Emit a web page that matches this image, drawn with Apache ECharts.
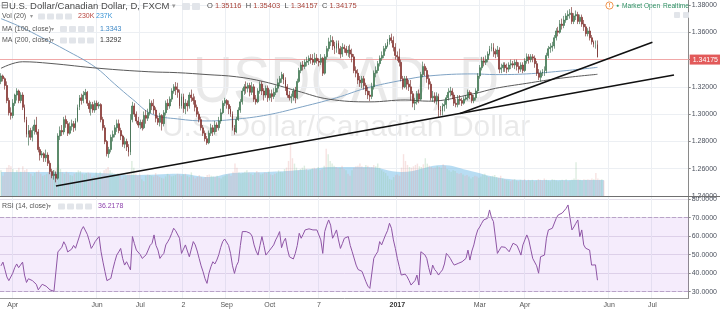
<!DOCTYPE html>
<html><head><meta charset="utf-8">
<script src="https://cdn.jsdelivr.net/npm/echarts@6.0.0/dist/echarts.min.js"></script>
<style>html,body{margin:0;padding:0;background:#fff}#c{width:720px;height:309px}</style>
</head><body><div id="c"></div>
<script>
// [open, close, low, high] per trading day, starting 2016-03-24
const ohlc = [
[1.3240,1.3280,1.3220,1.3300],[1.3280,1.3260,1.3240,1.3290],[1.3260,1.3210,1.3180,1.3270],[1.3210,1.3100,1.3080,1.3240],[1.3100,1.3010,1.2990,1.3120],
[1.3010,1.2990,1.2960,1.3050],[1.2990,1.3080,1.2970,1.3110],[1.3080,1.3140,1.3060,1.3150],[1.3140,1.3170,1.3100,1.3190],[1.3170,1.3100,1.3080,1.3180],
[1.3100,1.3140,1.3080,1.3160],[1.3140,1.3050,1.3030,1.3160],[1.3050,1.2960,1.2940,1.3070],[1.2960,1.2850,1.2830,1.2980],[1.2850,1.2880,1.2770,1.2920],
[1.2880,1.2830,1.2810,1.2900],[1.2830,1.2880,1.2800,1.2910],[1.2880,1.2920,1.2850,1.2960],[1.2920,1.2870,1.2850,1.2980],[1.2870,1.2740,1.2720,1.2890],
[1.2740,1.2700,1.2660,1.2760],[1.2700,1.2710,1.2680,1.2730],[1.2710,1.2680,1.2650,1.2720],[1.2680,1.2700,1.2650,1.2740],[1.2700,1.2640,1.2620,1.2720],
[1.2640,1.2580,1.2560,1.2660],[1.2580,1.2550,1.2530,1.2600],[1.2550,1.2560,1.2520,1.2590],[1.2560,1.2530,1.2500,1.2580],[1.2530,1.2840,1.2520,1.2860],
[1.2840,1.2880,1.2810,1.2910],[1.2880,1.2870,1.2840,1.2920],[1.2870,1.2960,1.2850,1.2980],[1.2960,1.2930,1.2900,1.2990],[1.2930,1.2860,1.2840,1.2950],
[1.2860,1.2910,1.2850,1.2940],[1.2910,1.2930,1.2880,1.2960],[1.2930,1.2900,1.2870,1.2950],[1.2900,1.2950,1.2880,1.2970],[1.2950,1.3050,1.2940,1.3070],
[1.3050,1.3120,1.3030,1.3140],[1.3120,1.3100,1.3070,1.3150],[1.3100,1.3140,1.3080,1.3170],[1.3140,1.3160,1.3110,1.3185],[1.3160,1.3080,1.3060,1.3170],
[1.3080,1.3040,1.3010,1.3100],[1.3040,1.3070,1.2990,1.3090],[1.3070,1.3030,1.3010,1.3090],[1.3030,1.3080,1.3010,1.3100],[1.3080,1.3060,1.3030,1.3100],
[1.3060,1.3070,1.3040,1.3090],[1.3070,1.2960,1.2940,1.3080],[1.2960,1.2900,1.2880,1.2980],[1.2900,1.2800,1.2780,1.2920],[1.2800,1.2710,1.2690,1.2810],
[1.2710,1.2740,1.2680,1.2760],[1.2740,1.2830,1.2720,1.2850],[1.2830,1.2850,1.2800,1.2880],[1.2850,1.2900,1.2830,1.2920],[1.2900,1.2930,1.2870,1.2960],
[1.2930,1.2880,1.2860,1.2960],[1.2880,1.2840,1.2810,1.2900],[1.2840,1.2780,1.2760,1.2850],[1.2780,1.2800,1.2750,1.2830],[1.2800,1.2760,1.2730,1.2820],
[1.2760,1.2720,1.2690,1.2780],[1.2720,1.2960,1.2700,1.3000],[1.2960,1.3060,1.2940,1.3090],[1.3060,1.3000,1.2980,1.3080],[1.3000,1.2950,1.2930,1.3020],
[1.2950,1.2920,1.2900,1.2980],[1.2920,1.2940,1.2890,1.2960],[1.2940,1.2900,1.2880,1.2960],[1.2900,1.2990,1.2890,1.3020],[1.2990,1.2970,1.2930,1.3030],
[1.2970,1.3010,1.2950,1.3040],[1.3010,1.3080,1.2990,1.3110],[1.3080,1.3060,1.3030,1.3100],[1.3060,1.3030,1.3000,1.3110],[1.3030,1.2970,1.2940,1.3050],
[1.2970,1.2940,1.2920,1.2990],[1.2940,1.2990,1.2910,1.3010],[1.2990,1.2930,1.2880,1.3000],[1.2930,1.3010,1.2910,1.3030],[1.3010,1.3080,1.2990,1.3100],
[1.3080,1.3060,1.3030,1.3110],[1.3060,1.3110,1.3040,1.3130],[1.3110,1.3170,1.3090,1.3190],[1.3170,1.3200,1.3150,1.3220],[1.3200,1.3180,1.3140,1.3235],
[1.3180,1.3160,1.3120,1.3230],[1.3160,1.3060,1.3040,1.3180],[1.3060,1.3130,1.3040,1.3150],[1.3130,1.3040,1.3010,1.3150],[1.3040,1.3080,1.3000,1.3110],
[1.3080,1.3060,1.3020,1.3100],[1.3060,1.3140,1.3040,1.3160],[1.3140,1.3120,1.3090,1.3180],[1.3120,1.3100,1.3070,1.3150],[1.3100,1.3050,1.3020,1.3130],
[1.3050,1.3000,1.2980,1.3070],[1.3000,1.2960,1.2940,1.3020],[1.2960,1.2900,1.2880,1.2980],[1.2900,1.2860,1.2840,1.2920],[1.2860,1.2820,1.2800,1.2880],
[1.2820,1.2790,1.2775,1.2840],[1.2790,1.2860,1.2780,1.2880],[1.2860,1.2900,1.2840,1.2930],[1.2900,1.2870,1.2840,1.2920],[1.2870,1.2920,1.2850,1.2950],
[1.2920,1.2900,1.2870,1.2940],[1.2900,1.2950,1.2880,1.2980],[1.2950,1.3010,1.2930,1.3040],[1.3010,1.3080,1.3000,1.3100],[1.3080,1.3100,1.3060,1.3120],
[1.3100,1.3070,1.3040,1.3110],[1.3070,1.3040,1.3000,1.3100],[1.3040,1.3000,1.2980,1.3060],[1.3000,1.2900,1.2880,1.3020],[1.2900,1.2870,1.2850,1.2920],
[1.2870,1.2960,1.2860,1.2980],[1.2960,1.3030,1.2950,1.3050],[1.3030,1.3090,1.3010,1.3110],[1.3090,1.3170,1.3070,1.3190],[1.3170,1.3200,1.3140,1.3220],
[1.3200,1.3190,1.3150,1.3240],[1.3190,1.3210,1.3160,1.3230],[1.3210,1.3160,1.3130,1.3230],[1.3160,1.3200,1.3140,1.3235],[1.3200,1.3110,1.3090,1.3220],
[1.3110,1.3090,1.3070,1.3140],[1.3090,1.3170,1.3080,1.3190],[1.3170,1.3220,1.3150,1.3240],[1.3220,1.3170,1.3140,1.3240],[1.3170,1.3140,1.3100,1.3190],
[1.3140,1.3190,1.3120,1.3210],[1.3190,1.3120,1.3090,1.3210],[1.3120,1.3150,1.3100,1.3180],[1.3150,1.3130,1.3090,1.3180],[1.3130,1.3160,1.3110,1.3190],
[1.3160,1.3190,1.3140,1.3210],[1.3190,1.3230,1.3160,1.3260],[1.3230,1.3260,1.3210,1.3280],[1.3260,1.3290,1.3230,1.3310],[1.3290,1.3250,1.3220,1.3300],
[1.3250,1.3200,1.3170,1.3270],[1.3200,1.3140,1.3120,1.3220],[1.3140,1.3120,1.3100,1.3170],[1.3120,1.3130,1.3080,1.3150],[1.3130,1.3170,1.3100,1.3190],
[1.3170,1.3120,1.3080,1.3200],[1.3120,1.3240,1.3110,1.3260],[1.3240,1.3320,1.3230,1.3340],[1.3320,1.3360,1.3300,1.3380],[1.3360,1.3350,1.3320,1.3390],
[1.3350,1.3380,1.3330,1.3400],[1.3380,1.3390,1.3350,1.3420],[1.3390,1.3410,1.3360,1.3430],[1.3410,1.3400,1.3370,1.3440],[1.3400,1.3380,1.3360,1.3440],
[1.3380,1.3410,1.3360,1.3450],[1.3410,1.3390,1.3370,1.3440],[1.3390,1.3380,1.3350,1.3410],[1.3380,1.3410,1.3360,1.3440],[1.3410,1.3300,1.3280,1.3420],
[1.3300,1.3420,1.3290,1.3440],[1.3420,1.3480,1.3400,1.3500],[1.3480,1.3530,1.3460,1.3560],[1.3530,1.3540,1.3500,1.3580],[1.3540,1.3500,1.3470,1.3570],
[1.3500,1.3480,1.3440,1.3530],[1.3480,1.3520,1.3450,1.3540],[1.3520,1.3480,1.3440,1.3540],[1.3480,1.3440,1.3410,1.3500],[1.3440,1.3490,1.3420,1.3520],
[1.3490,1.3480,1.3450,1.3510],[1.3480,1.3450,1.3430,1.3500],[1.3450,1.3470,1.3420,1.3500],[1.3470,1.3440,1.3410,1.3510],[1.3440,1.3420,1.3380,1.3480],
[1.3420,1.3320,1.3300,1.3440],[1.3320,1.3300,1.3270,1.3350],[1.3300,1.3250,1.3220,1.3330],[1.3250,1.3230,1.3200,1.3280],[1.3230,1.3260,1.3190,1.3280],
[1.3260,1.3210,1.3180,1.3280],[1.3210,1.3170,1.3140,1.3230],[1.3170,1.3140,1.3110,1.3200],[1.3140,1.3130,1.3095,1.3170],[1.3130,1.3200,1.3110,1.3230],
[1.3200,1.3300,1.3180,1.3320],[1.3300,1.3320,1.3270,1.3350],[1.3320,1.3370,1.3300,1.3390],[1.3370,1.3410,1.3350,1.3430],[1.3410,1.3430,1.3390,1.3460],
[1.3430,1.3480,1.3410,1.3500],[1.3480,1.3500,1.3460,1.3520],[1.3500,1.3530,1.3490,1.3550],[1.3530,1.3560,1.3510,1.3580],[1.3560,1.3540,1.3520,1.3590],
[1.3540,1.3490,1.3460,1.3570],[1.3490,1.3430,1.3400,1.3520],[1.3430,1.3420,1.3390,1.3460],[1.3420,1.3380,1.3350,1.3480],[1.3380,1.3260,1.3240,1.3400],
[1.3260,1.3200,1.3180,1.3280],[1.3200,1.3260,1.3190,1.3280],[1.3260,1.3220,1.3180,1.3280],[1.3220,1.3200,1.3170,1.3250],[1.3200,1.3150,1.3100,1.3250],
[1.3150,1.3080,1.3050,1.3170],[1.3080,1.3090,1.3030,1.3120],[1.3090,1.3150,1.3070,1.3170],[1.3150,1.3110,1.3080,1.3180],[1.3110,1.3290,1.3100,1.3310],
[1.3290,1.3350,1.3270,1.3385],[1.3350,1.3320,1.3280,1.3370],[1.3320,1.3260,1.3230,1.3340],[1.3260,1.3220,1.3180,1.3290],[1.3220,1.3120,1.3100,1.3240],
[1.3120,1.3130,1.3090,1.3170],[1.3130,1.3100,1.3080,1.3160],[1.3100,1.3130,1.3070,1.3160],[1.3130,1.3030,1.2980,1.3150],[1.3030,1.3020,1.2990,1.3060],
[1.3020,1.3060,1.2990,1.3080],[1.3060,1.3070,1.3020,1.3100],[1.3070,1.3120,1.3040,1.3140],[1.3120,1.3160,1.3100,1.3190],[1.3160,1.3170,1.3130,1.3200],
[1.3170,1.3140,1.3110,1.3190],[1.3140,1.3080,1.3060,1.3160],[1.3080,1.3070,1.3050,1.3110],[1.3070,1.3110,1.3050,1.3140],[1.3110,1.3100,1.3070,1.3140],
[1.3100,1.3080,1.3060,1.3120],[1.3080,1.3110,1.3070,1.3130],[1.3110,1.3120,1.3100,1.3140],[1.3120,1.3160,1.3100,1.3180],[1.3160,1.3140,1.3110,1.3175],
[1.3140,1.3100,1.3080,1.3160],[1.3100,1.3120,1.3080,1.3140],[1.3120,1.3170,1.3100,1.3190],[1.3170,1.3280,1.3150,1.3300],[1.3280,1.3340,1.3260,1.3360],
[1.3340,1.3390,1.3320,1.3420],[1.3390,1.3380,1.3350,1.3420],[1.3380,1.3400,1.3360,1.3430],[1.3400,1.3440,1.3380,1.3460],[1.3440,1.3480,1.3430,1.3500],
[1.3480,1.3490,1.3460,1.3520],[1.3490,1.3460,1.3420,1.3520],[1.3460,1.3440,1.3410,1.3480],[1.3440,1.3470,1.3420,1.3500],[1.3470,1.3330,1.3300,1.3490],
[1.3330,1.3340,1.3300,1.3370],[1.3340,1.3360,1.3310,1.3380],[1.3360,1.3340,1.3310,1.3380],[1.3340,1.3330,1.3300,1.3370],[1.3330,1.3360,1.3310,1.3380],
[1.3360,1.3370,1.3330,1.3400],[1.3370,1.3360,1.3340,1.3390],[1.3360,1.3380,1.3330,1.3400],[1.3380,1.3350,1.3320,1.3400],[1.3350,1.3330,1.3300,1.3380],
[1.3330,1.3360,1.3310,1.3380],[1.3360,1.3320,1.3300,1.3380],[1.3320,1.3390,1.3310,1.3410],[1.3390,1.3420,1.3370,1.3445],[1.3420,1.3400,1.3370,1.3440],
[1.3400,1.3420,1.3380,1.3440],[1.3420,1.3410,1.3380,1.3440],[1.3410,1.3370,1.3340,1.3430],[1.3370,1.3300,1.3280,1.3390],[1.3300,1.3270,1.3250,1.3330],
[1.3270,1.3300,1.3238,1.3320],[1.3300,1.3310,1.3280,1.3330],[1.3310,1.3320,1.3280,1.3350],[1.3320,1.3430,1.3300,1.3450],[1.3430,1.3480,1.3410,1.3500],
[1.3480,1.3490,1.3450,1.3520],[1.3490,1.3500,1.3460,1.3530],[1.3500,1.3560,1.3480,1.3580],[1.3560,1.3610,1.3540,1.3630],[1.3610,1.3600,1.3570,1.3640],
[1.3600,1.3660,1.3590,1.3690],[1.3660,1.3650,1.3620,1.3700],[1.3650,1.3690,1.3630,1.3720],[1.3690,1.3720,1.3670,1.3740],[1.3720,1.3730,1.3690,1.3760],
[1.3730,1.3740,1.3700,1.3770],[1.3740,1.3680,1.3660,1.3785],[1.3680,1.3720,1.3660,1.3740],[1.3720,1.3730,1.3690,1.3760],[1.3730,1.3680,1.3660,1.3750],
[1.3680,1.3710,1.3660,1.3730],[1.3710,1.3660,1.3640,1.3730],[1.3660,1.3640,1.3610,1.3690],[1.3640,1.3590,1.3570,1.3660],[1.3590,1.3610,1.3570,1.3630],
[1.3610,1.3560,1.3540,1.3640],[1.3560,1.3530,1.3510,1.3580],[1.3530,1.3510,1.3490,1.3540],[1.3510,1.35116,1.3480,1.3540],[1.35116,1.34175,1.34157,1.35403]
];
// volume per bar, thousands
const volume = [
380,300,350,420,460,440,400,350,380,420,360,440,
380,400,350,330,300,340,360,380,330,300,310,330,360,370,380,
390,420,470,400,350,330,360,340,310,300,330,350,380,370,330,
320,340,350,330,280,300,350,320,360,330,380,400,430,380,350,
330,320,340,300,250,290,300,340,330,520,420,330,300,320,250,
220,300,320,310,300,290,340,300,280,270,260,290,330,310,290,
300,310,330,320,300,320,330,300,280,350,290,260,280,310,280,
260,280,310,320,300,290,280,300,270,260,290,300,320,330,300,
360,480,420,350,330,340,360,380,350,330,310,340,370,350,320,
330,350,340,360,320,310,330,340,380,360,350,400,420,520,780,
560,480,420,380,400,420,450,400,380,390,410,420,400,430,380,
400,450,700,620,520,480,450,430,410,420,450,400,380,330,300,
380,420,440,450,480,440,420,460,450,420,430,460,440,480,420,
380,360,340,300,250,240,280,310,320,300,420,620,520,460,430,
420,440,460,480,440,430,470,560,480,450,430,410,420,440,430,
420,470,450,400,380,360,380,370,340,330,340,320,300,310,290,
260,280,300,290,270,290,320,330,300,280,290,300,310,280,270,
300,260,250,240,230,220,240,250,230,220,240,230,250,220,240,
230,240,220,230,250,240,230,260,240,230,220,250,240,230,220,
230,240,230,250,220,230,240,260,500,250,240,230,250,240,250,
240,260,250,340,260,240,250,230
];
// volume moving average read at sample bars [barIndex, thousands]
const volumeMA = [[0,355],[30,355],[50,340],[67,311],[90,330],[105,281],[117,340],[134,355],[151,385],[168,430],[185,430],[202,355],[223,459],[235,385],[252,266],[268,237],[285,237],[304,237]];
// MA(100) and MA(200) read at sample bars [barIndex, price]
const ma100 = [[0,1.3700],[10,1.3640],[21,1.3560],[33,1.3470],[48,1.3345],[58,1.3220],[67,1.3110],[77,1.3000],[90,1.2965],[105,1.2950],[121,1.2965],[136,1.2995],[151,1.3045],[171,1.3120],[186,1.3190],[205,1.3250],[218,1.3280],[241,1.3295],[252,1.3290],[268,1.3295],[285,1.3315],[304,1.3343]];
const ma200 = [[0,1.3336],[11,1.3384],[25,1.3372],[50,1.3336],[75,1.3311],[90,1.3304],[105,1.3290],[120,1.3274],[134,1.3238],[151,1.3170],[167,1.3110],[188,1.3090],[206,1.3104],[218,1.3095],[241,1.3150],[252,1.3189],[268,1.3226],[285,1.3263],[304,1.3292]];
const rsi = [
44,46,42,38,36,37,40,43,45,43, 44,46,39,35,37,38,36,37,34,31,
32,34,33,33,32,31,30.5,30.2,29.7,51.5, 52.5,54,57,55,51.5,50.7,53,55,53.5,53.4,
60,63.4,65.2,64.3,61,57.5,53.4,55,57.1,58.5, 59.8,51.6,46,40.8,36,35.1,37.2,42,46.2,49.8,
51.5,53.4,48,44.4,46.2,44,41.8,59.8,56,52.5, 51.6,50,48,47.1,50,52.5,55,56.2,60.7,55,
52.5,48,49.5,50.7,55.3,57,58.9,61.5,64.3,63, 62.5,58.9,50.7,53,55.3,52,48.9,53,57.1,55.3,
52,48,44,40.8,37,34.5,40,43.5,46.2,45, 47.1,50,54,57.1,58.5,59.2,55,50.7,44,39.9,
44,46.2,55,62.5,63.4,62.5,63,61.6,60,55.3, 52,49.8,55,59.8,55,49.8,50.5,52.5,53.5,55.3,
58,60,62.5,53.8,57,58.9,53,48.9,48,47.7, 50.7,55,61.6,58.9,61,63.4,63.5,64,64.3,63.4,
63.5,63.4,63.4,58,50.7,62.5,66,68.8,66,58.9, 61,63.4,58,53.4,56,58.9,59.5,59.8,55,51.6,
52.5,44.4,42,41.8,41,40.8,35.4,33,31.8,31.5, 48,50,51.6,57.1,55.3,58,60.7,63,67,64.3,
58,53.4,48,43.5,39,40,39.5,38.1,36,33.6, 32.7,36,39,33.6,51.6,52.5,50,48,43,39,
44.4,42,40.8,39,40.5,41.8,45,50.7,49.5,48, 46,44.4,44.8,45.3,45.8,46.2,47,48,52.5,47.1,
52,55.3,60,63.4,65,67,68.8,69,69.7,74.2, 70,67.9,68.8,50.7,52.5,54.3,54.3,54,54.3,51.6,
54,56.2,57.1,55,52.5,49.8,55.3,58,60.7,58, 53,48,48.9,44,40,48.9,49.3,49.8,58.9,63.4,
63.8,64.3,65.2,69.7,71.5,72,72.5,73.3,75,76.9, 77.8,63.4,65,67,68.8,59.8,63.4,55.3,53.5,52.5,
52.5,44.4,44.1,44.5,36.2178
];
const trendA = [[28,1.2473],[343,1.3287]];
const trendB = [[234,1.3005],[332,1.3527]];
const lastPrice = 1.34175;
const priceTicks = [1.24,1.26,1.28,1.30,1.32,1.34,1.36,1.38];
const rsiTicks = [30,40,50,60,70,80];
const tickDates = ['2016-04-01','2016-06-01','2016-07-01','2016-08-02','2016-09-01','2016-10-03','2016-11-07','2017-01-02','2017-03-01','2017-04-03','2017-06-01','2017-07-03'];
const tickLabels = ['Apr','Jun','Jul','2','Sep','Oct','7','2017','Mar','Apr','Jun','Jul'];

// trading-day categories (weekdays) from the first bar to the end of the visible range
const slotCount = 351;
const days = [];
(function(){ const d = new Date(Date.UTC(2016,2,24)); while (days.length < slotCount) { const w = d.getUTCDay(); if (w !== 0 && w !== 6) days.push(d.toISOString().slice(0,10)); d.setUTCDate(d.getUTCDate()+1); } })();
const labelAt = {};
tickDates.forEach((t,k)=>{ const i = days.indexOf(t); if (i >= 0) labelAt[i] = tickLabels[k]; });
const isTick = (i)=> labelAt[i] !== undefined;

const FONT = 'Liberation Sans';
const gridLine = '#eceff3';
function xAx(gi, showLabels){
  return {type:'category', gridIndex:gi, data:days, boundaryGap:true,
    axisLine:{show:showLabels, lineStyle:{color:'#9a9a9a'}}, axisTick:{show:false},
    axisLabel:{show:showLabels, interval:(i)=>isTick(i), formatter:(v,i)=> labelAt[i]==='2017' ? '{b|2017}' : (labelAt[i]||''),
      fontSize:7, color:'#555', margin:4, fontFamily:FONT, rich:{b:{fontWeight:'bold', fontSize:7, color:'#333', fontFamily:FONT}}},
    splitLine:{show:gi!==1, interval:(i)=>isTick(i), lineStyle:{color:gridLine, width:1}}};
}
const upC = '#52a066', upB = '#2a5e3c', dnC = '#b43c38', dnB = '#6a1c19';

function box(x,y,w,h){ return {type:'rect', shape:{x:x,y:y,width:w,height:h,r:1}, style:{fill:'#e2e5ea'}, silent:true, z:10}; }
function txt(x,y,t,size,fill,extra){ return Object.assign({type:'text', x:x, y:y, style:{text:t, fill:fill, font:size+'px '+FONT, verticalAlign:'middle'}, silent:true, z:10}, extra||{}); }

const chart = echarts.init(document.getElementById('c'), null, {renderer:'canvas'});
chart.setOption({
  animation:false,
  textStyle:{fontFamily:FONT},
  grid:[
    {left:0, right:24, top:0, height:196},
    {left:0, right:24, top:140, height:56},
    {left:0, right:24, top:197, height:101}
  ],
  xAxis:[xAx(0,false), xAx(1,false), xAx(2,true)],
  yAxis:[
    {type:'value', gridIndex:0, position:'right', min:1.24, max:1.38367, scale:true,
     axisLine:{show:true, lineStyle:{color:'#8a8a8a'}},
     axisTick:{show:true, length:2, customValues:priceTicks, lineStyle:{color:'#8a8a8a'}},
     axisLabel:{customValues:priceTicks, formatter:(v)=>v.toFixed(5), fontSize:7, color:'#4c525e', margin:3, fontFamily:FONT},
     splitLine:{show:true, lineStyle:{color:gridLine}}},
    {type:'value', gridIndex:1, min:0, max:830, show:false, splitLine:{show:false}},
    {type:'value', gridIndex:2, position:'right', min:26.6, max:81.2,
     axisLine:{show:true, lineStyle:{color:'#8a8a8a'}},
     axisTick:{show:true, length:2, customValues:rsiTicks, lineStyle:{color:'#8a8a8a'}},
     axisLabel:{customValues:rsiTicks, formatter:(v)=>v.toFixed(4), fontSize:7, color:'#4c525e', margin:3, fontFamily:FONT},
     splitLine:{show:true, lineStyle:{color:'#e4dfea'}}}
  ],
  graphic:[
    {type:'text', x:346, y:84, scaleX:0.87, style:{text:'USDCAD, D', font:'64px '+FONT, fill:'rgba(0,0,0,0.085)', align:'center', verticalAlign:'middle'}, silent:true, z:-1},
    {type:'text', x:346, y:128, style:{text:'U.S. Dollar/Canadian Dollar', font:'30px '+FONT, fill:'rgba(0,0,0,0.085)', align:'center', verticalAlign:'middle'}, silent:true, z:-1},
    {type:'line', shape:{x1:0,y1:196.5,x2:720,y2:196.5}, style:{stroke:'#6f6f6f', lineWidth:1}, silent:true, z:10},
    txt(1,6,'⊟',9,'#555'),
    txt(9,6,'U.S. Dollar/Canadian Dollar, D, FXCM',9.5,'#4a4a4a'),
    txt(172,6,'▾',7,'#999'),
    box(182,3,8,7), box(192,3,8,7),
    {type:'text', x:207, y:6, style:{text:'{l|O} {v|1.35116}  {l|H} {v|1.35403}  {l|L} {v|1.34157}  {l|C} {v|1.34175}', font:'7.5px '+FONT, verticalAlign:'middle',
      rich:{l:{fill:'#4a4a4a', font:'7.5px '+FONT}, v:{fill:'#a8453c', font:'7.5px '+FONT}}}, silent:true, z:10},
    txt(2,16.5,'Vol (20)',7,'#555'), txt(30,16.5,'▾',6,'#999'),
    box(38,13.5,7,6), box(47,13.5,7,6), box(56,13.5,7,6), box(65,13.5,7,6),
    txt(78,16.5,'230K',7,'#b8453e'), txt(96,16.5,'237K',7,'#3b95d6'),
    txt(2,29,'MA (100, close)',7,'#555'), txt(51,29,'▾',6,'#999'),
    box(60,26,7,6), box(69,26,7,6), box(78,26,7,6), box(87,26,7,6),
    txt(100,29,'1.3343',7,'#3b86c5'),
    txt(2,40.5,'MA (200, close)',7,'#555'), txt(51,40.5,'▾',6,'#999'),
    box(60,37.5,7,6), box(69,37.5,7,6), box(78,37.5,7,6), box(87,37.5,7,6),
    txt(100,40.5,'1.3292',7,'#333'),
    txt(2,206.5,'RSI (14, close)',7,'#555'), txt(48,206.5,'▾',6,'#999'),
    box(58,203.5,7,6), box(67,203.5,7,6), box(76,203.5,7,6), box(85,203.5,7,6),
    txt(98,206.5,'36.2178',7,'#8e44ad'),
    {type:'circle', shape:{cx:609.5, cy:5.5, r:3.6}, style:{fill:'#fff', stroke:'#ee8a3c', lineWidth:0.9}, silent:true, z:10},
    txt(609.5,5.8,'!',6,'#ee8a3c',{style:{text:'!', fill:'#ee8a3c', font:'bold 6px '+FONT, align:'center', verticalAlign:'middle'}}),
    txt(616,6,'●',5,'#2f9e6a'),
    txt(622,6,'Market Open',6.6,'#2f8f62'), txt(663,6,'Realtime',6.6,'#2f8f62'),
    box(674,12,6,6), box(683,12,6,6)
  ],
  series:[
    {type:'candlestick', xAxisIndex:0, yAxisIndex:0, data:ohlc, barWidth:1.4, z:3,
     itemStyle:{color:upC, color0:dnC, borderColor:upB, borderColor0:dnB, borderWidth:0.6},
     markLine:{silent:true, symbol:'none', z:2,
       lineStyle:{color:'#f0a8a8', width:1, type:'solid'},
       label:{show:true, position:'end', formatter:lastPrice.toFixed(5), color:'#fff', backgroundColor:'#e25a5a', padding:[2,3,1,3], fontSize:7, fontFamily:FONT, distance:1},
       data:[{yAxis:lastPrice}]}},
    {type:'line', xAxisIndex:0, yAxisIndex:0, data:ma100, smooth:0.4, symbol:'none', lineStyle:{color:'#7fa3c4', width:1}, z:2, silent:true},
    {type:'line', xAxisIndex:0, yAxisIndex:0, data:ma200, smooth:0.4, symbol:'none', lineStyle:{color:'#5a5a5a', width:1}, z:2, silent:true},
    {type:'line', xAxisIndex:0, yAxisIndex:0, data:trendA, symbol:'none', lineStyle:{color:'#111', width:1.6}, z:4, silent:true},
    {type:'line', xAxisIndex:0, yAxisIndex:0, data:trendB, symbol:'none', lineStyle:{color:'#111', width:1.6}, z:4, silent:true},
    {type:'bar', xAxisIndex:1, yAxisIndex:1, data:volume, barWidth:1.4, z:1, silent:true,
     itemStyle:{color:(p)=>{ const b = ohlc[p.dataIndex]; return b[1] >= b[0] ? 'rgba(150,200,160,0.32)' : 'rgba(230,160,155,0.3)'; }}},
    {type:'line', xAxisIndex:1, yAxisIndex:1, data:volumeMA, smooth:0.4, symbol:'none', lineStyle:{width:0}, z:1, silent:true,
     areaStyle:{color:'rgba(115,188,232,0.72)'}},
    {type:'line', xAxisIndex:2, yAxisIndex:2, data:rsi, symbol:'none', lineStyle:{color:'#8e55a5', width:1}, z:3, silent:true,
     markArea:{silent:true, itemStyle:{color:'rgba(175,110,230,0.13)'}, data:[[{yAxis:30},{yAxis:70}]]},
     markLine:{silent:true, symbol:'none', label:{show:false}, lineStyle:{color:'#b9a3c8', type:'dashed', width:1}, data:[{yAxis:30},{yAxis:70}]}}
  ]
});
</script></body></html>
